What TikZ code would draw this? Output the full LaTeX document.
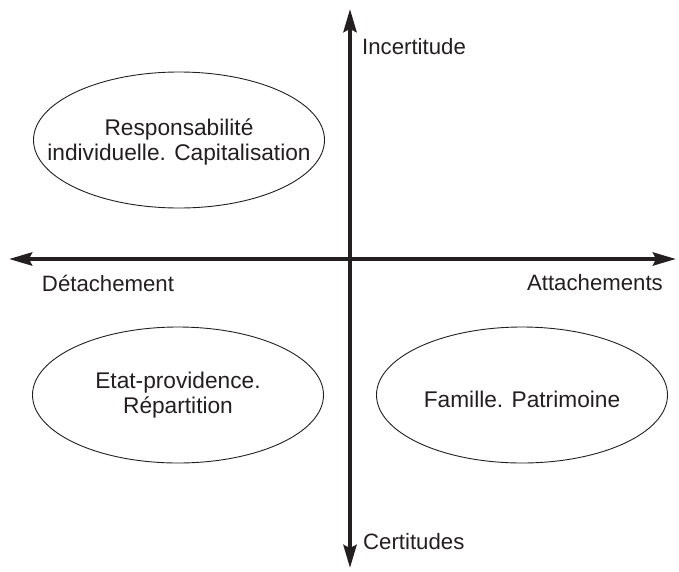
\documentclass[tikz,border=0pt]{standalone}
\usepackage{fontspec}
\setmainfont{Liberation Sans}
\usetikzlibrary{shapes.geometric,arrows.meta}
\definecolor{ink}{HTML}{231F20}
\tikzset{
  axis/.style={line width=4pt, draw=ink, {Stealth[length=23pt,width=13pt,inset=3pt]}-{Stealth[length=23pt,width=13pt,inset=3pt]}},
  bubble/.style={ellipse, draw=ink, line width=0.9pt, minimum width=291pt, minimum height=136pt, inner sep=0pt},
  btext/.style={align=center, text=ink, inner sep=0pt, font=\fontsize{22.7}{25}\selectfont},
  lab/.style={text=ink, inner sep=0pt, font=\fontsize{22.2}{25}\selectfont}
}
\begin{document}
\begin{tikzpicture}[x=1pt,y=-1pt]
\useasboundingbox (0,0) rectangle (679,571);
\coordinate (L) at (9,259);
\coordinate (R) at (676,259);
\coordinate (T) at (350,9);
\coordinate (B) at (350,568);
\draw[axis] (L) -- (R);
\draw[axis] (T) -- (B);
\node[bubble] (resp) at (179,140) {};
\node[btext] (respt) at ([yshift=-2pt]resp.center) {Responsabilité\\individuelle. Capitalisation};
\node[bubble] (etat) at (178,395) {};
\node[btext] (etatt) at (etat) {Etat-providence.\\Répartition};
\node[bubble] (fam) at (522,395) {};
\node[btext] (famt) at ([yshift=-4pt]fam.center) {Famille. Patrimoine};
\node[lab, anchor=west] (inc) at (362,47) {Incertitude};
\node[lab, anchor=west] (cert) at (363,542) {Certitudes};
\node[lab] (det) at (108,283) {Détachement};
\node[lab, anchor=east] (att) at (663,283) {Attachements};
\end{tikzpicture}
\end{document}
